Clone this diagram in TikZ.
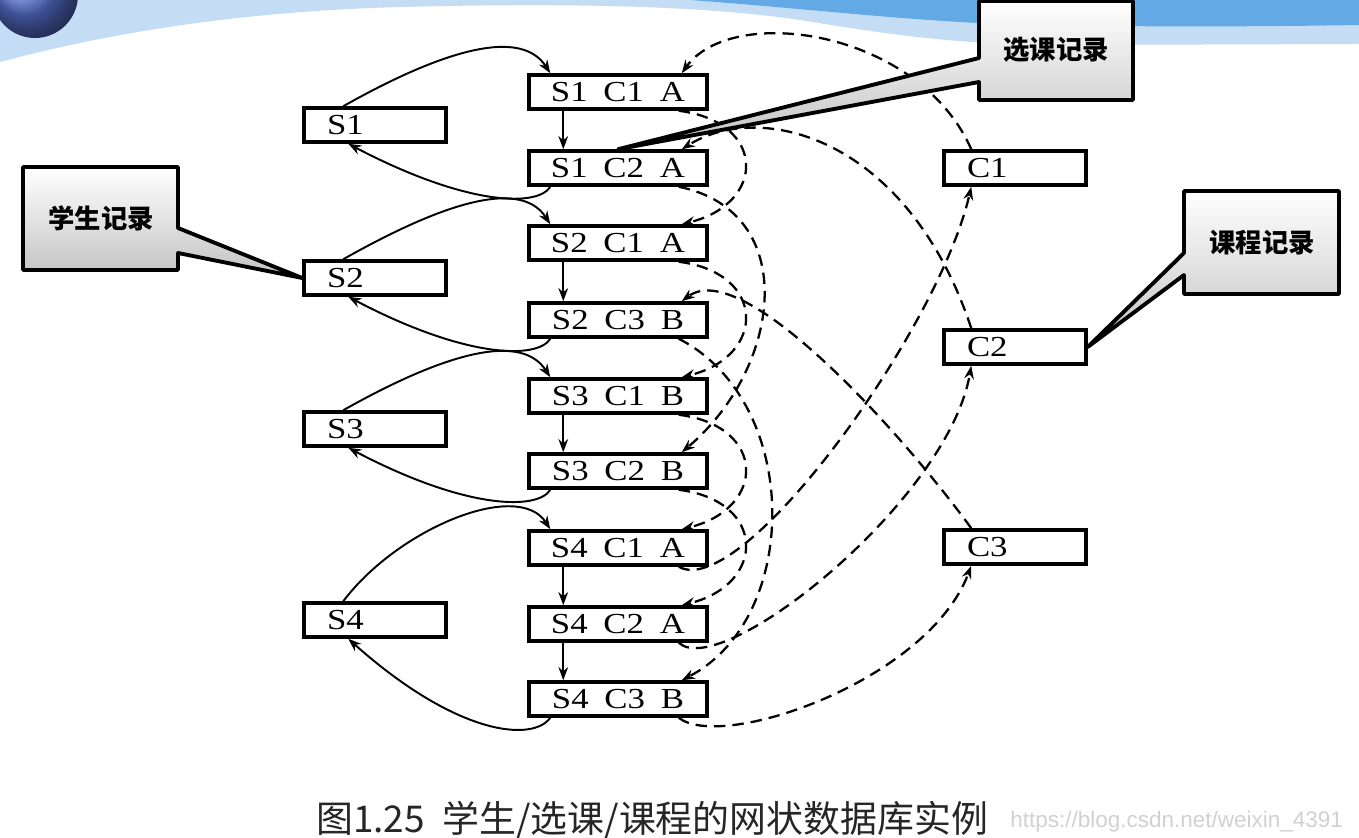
\documentclass[tikz,border=0pt]{standalone}
\usepackage{fontspec}
\setmainfont{Liberation Serif}
\newfontfamily\recfont{Liberation Serif}[FakeStretch=1.2]
\newfontfamily\cjkfont{Noto Sans CJK SC}
\newfontfamily\urlfont{Liberation Sans}
\usepackage{tikz}
\usetikzlibrary{positioning,arrows.meta}
\usepackage{xcolor}
\definecolor{waveLight}{HTML}{C4DDF5}
\definecolor{waveDark}{HTML}{62A9E6}
\definecolor{orbBlue}{HTML}{5A74D6}
\newcommand{\recLabel}[3]{#1\hspace{9pt}#2\hspace{9pt}#3}

\begin{document}
\begin{tikzpicture}[x=0.02cm, y=-0.02cm,
        recBox/.style={draw=black, fill=white, line width=2pt, minimum width=3.56cm, minimum height=0.68cm, inner sep=0pt, font=\recfont\fontsize{16.5}{18}\selectfont},
        keyBox/.style={draw=black, fill=white, line width=2pt, minimum width=2.84cm, minimum height=0.68cm, inner xsep=0.46cm, inner ysep=0pt, text width=1.92cm, align=left, font=\recfont\fontsize{16.5}{18}\selectfont},
        noteShape/.style={draw=black, line width=2.2pt, line join=round, top color=white, bottom color=black!24},
        noteText/.style={inner sep=0pt, font=\cjkfont\bfseries\fontsize{15}{18}\selectfont},
        setArrow/.style={-{Stealth[length=7.5pt,width=5.5pt]}, line width=1.1pt},
        chainArrow/.style={-{Stealth[length=7.5pt,width=5.5pt]}, line width=1.3pt, dash pattern=on 6.5pt off 4pt}
    ]
        \useasboundingbox (0,0) rectangle (1359,838);
        \fill[white] (0,0) rectangle (1359,838);

        % Slide background waves
        \fill[waveLight] (0,0) -- (0,62) .. controls (90,38) and (220,12) .. (400,7) .. controls (560,3) and (700,5) .. (800,20) .. controls (880,33) and (950,44) .. (1050,45) -- (1359,44) -- (1359,0) -- cycle;
        \fill[waveDark] (690,0) .. controls (800,8) and (900,20) .. (1000,24) .. controls (1150,28) and (1300,26) .. (1359,25) -- (1359,0) -- cycle;
        \shade[ball color=orbBlue] (35,-5) circle[radius=0.86cm];

        % Student records
        \node[keyBox] (S1) at (375,125) {S1};
        \node[keyBox] (S2) at (375,278) {S2};
        \node[keyBox] (S3) at (375,429) {S3};
        \node[keyBox] (S4) at (375,620) {S4};

        % Course records
        \node[keyBox] (C1) at (1015,168) {C1};
        \node[keyBox] (C2) at (1015,347) {C2};
        \node[keyBox] (C3) at (1015,547) {C3};

        % Enrolment records
        \node[recBox] (S1C1A) at (618,92) {\recLabel{S1}{C1}{A}};
        \node[recBox] (S1C2A) at (618,168) {\recLabel{S1}{C2}{A}};
        \node[recBox] (S2C1A) at (618,243) {\recLabel{S2}{C1}{A}};
        \node[recBox] (S2C3B) at (618,320) {\recLabel{S2}{C3}{B}};
        \node[recBox] (S3C1B) at (618,396) {\recLabel{S3}{C1}{B}};
        \node[recBox] (S3C2B) at (618,471) {\recLabel{S3}{C2}{B}};
        \node[recBox] (S4C1A) at (618,548) {\recLabel{S4}{C1}{A}};
        \node[recBox] (S4C2A) at (618,624) {\recLabel{S4}{C2}{A}};
        \node[recBox] (S4C3B) at (618,699) {\recLabel{S4}{C3}{B}};

        % Course chains (dashed)
        \draw[chainArrow] ([xshift=0.58cm]C1.north west) .. controls +(-53,-120) and +(50,-70) .. ([xshift=-0.54cm]S1C1A.north east);
        \draw[chainArrow] ([xshift=-0.6cm]S1C1A.south east) .. controls +(88,11) and +(85,-21) .. ([xshift=-0.54cm]S2C1A.north east);
        \draw[chainArrow] ([xshift=-0.6cm]S2C1A.south east) .. controls +(88,11) and +(85,-21) .. ([xshift=-0.54cm]S3C1B.north east);
        \draw[chainArrow] ([xshift=-0.6cm]S3C1B.south east) .. controls +(88,11) and +(85,-21) .. ([xshift=-0.54cm]S4C1A.north east);
        \draw[chainArrow] ([xshift=-0.6cm]S4C1A.south east) .. controls +(63,35) and +(-33,144) .. ([xshift=0.58cm]C1.south west);

        \draw[chainArrow] ([xshift=0.58cm]C2.north west) .. controls +(-63,-190) and +(80,-50) .. ([xshift=-0.54cm]S1C2A.north east);
        \draw[chainArrow] ([xshift=-0.6cm]S1C2A.south east) .. controls +(123,25) and +(100,-84) .. ([xshift=-0.54cm]S3C2B.north east);
        \draw[chainArrow] ([xshift=-0.6cm]S3C2B.south east) .. controls +(88,11) and +(85,-21) .. ([xshift=-0.54cm]S4C2A.north east);
        \draw[chainArrow] ([xshift=-0.6cm]S4C2A.south east) .. controls +(43,39) and +(-23,135) .. ([xshift=0.58cm]C2.south west);

        \draw[chainArrow] ([xshift=0.58cm]C3.north west) .. controls +(-73,-100) and +(60,-45) .. ([xshift=-0.54cm]S2C3B.north east);
        \draw[chainArrow] ([xshift=-0.6cm]S2C3B.south east) .. controls +(123,63) and +(120,-62) .. ([xshift=-0.54cm]S4C3B.north east);
        \draw[chainArrow] ([xshift=-0.6cm]S4C3B.south east) .. controls +(43,34) and +(-43,115) .. ([xshift=0.58cm]C3.south west);

        % Student chains (solid)
        \draw[setArrow] ([xshift=0.82cm]S1.north west) .. controls +(85,-48) and +(-32,-50) .. ([xshift=0.46cm]S1C1A.north west);
        \draw[setArrow] ([xshift=0.72cm]S1C1A.south west) -- ([xshift=0.72cm]S1C2A.north west);
        \draw[setArrow] ([xshift=0.46cm]S1C2A.south west) .. controls +(-12,20) and +(120,63) .. ([xshift=0.92cm]S1.south west);

        \draw[setArrow] ([xshift=0.82cm]S2.north west) .. controls +(85,-48) and +(-32,-50) .. ([xshift=0.46cm]S2C1A.north west);
        \draw[setArrow] ([xshift=0.72cm]S2C1A.south west) -- ([xshift=0.72cm]S2C3B.north west);
        \draw[setArrow] ([xshift=0.46cm]S2C3B.south west) .. controls +(-12,20) and +(120,63) .. ([xshift=0.92cm]S2.south west);

        \draw[setArrow] ([xshift=0.82cm]S3.north west) .. controls +(85,-48) and +(-32,-50) .. ([xshift=0.46cm]S3C1B.north west);
        \draw[setArrow] ([xshift=0.72cm]S3C1B.south west) -- ([xshift=0.72cm]S3C2B.north west);
        \draw[setArrow] ([xshift=0.46cm]S3C2B.south west) .. controls +(-12,20) and +(120,63) .. ([xshift=0.92cm]S3.south west);

        \draw[setArrow] ([xshift=0.82cm]S4.north west) .. controls +(55,-73) and +(-32,-50) .. ([xshift=0.46cm]S4C1A.north west);
        \draw[setArrow] ([xshift=0.72cm]S4C1A.south west) -- ([xshift=0.72cm]S4C2A.north west);
        \draw[setArrow] ([xshift=0.72cm]S4C2A.south west) -- ([xshift=0.72cm]S4C3B.north west);
        \draw[setArrow] ([xshift=0.46cm]S4C3B.south west) .. controls +(-17,24) and +(110,98) .. ([xshift=0.92cm]S4.south west);

        % Callouts
        \path[noteShape] (23,167) -- (178,167) -- (178,228) -- (S2.west) -- (178,253) -- (178,270) -- (23,270) -- cycle;
        \node[noteText] (stuNote) at (101,218) {学生记录};

        \path[noteShape] (979,1) -- (1133,1) -- (1133,100) -- (979,100) -- (979,82) -- (S1C2A.north) -- (979,58) -- cycle;
        \node[noteText] (selNote) at (1056,50) {选课记录};

        \path[noteShape] (1184,191) -- (1339,191) -- (1339,294) -- (1184,294) -- (1184,275) -- (C2.east) -- (1184,253) -- cycle;
        \node[noteText] (crsNote) at (1262,243) {课程记录};

        % Caption
        \node[anchor=west, inner sep=0pt, text=black!85, font=\cjkfont\fontsize{21}{24}\selectfont] (caption) at (316,820) {图1.25\hspace{10pt}学生/选课/课程的网状数据库实例};
        \node[anchor=west, inner sep=0pt, text=black!18, font=\urlfont\fontsize{12.8}{15}\selectfont] (watermark) at (1010,822) {https://blog.csdn.net/weixin\_4391};
    \end{tikzpicture}
\end{document}
